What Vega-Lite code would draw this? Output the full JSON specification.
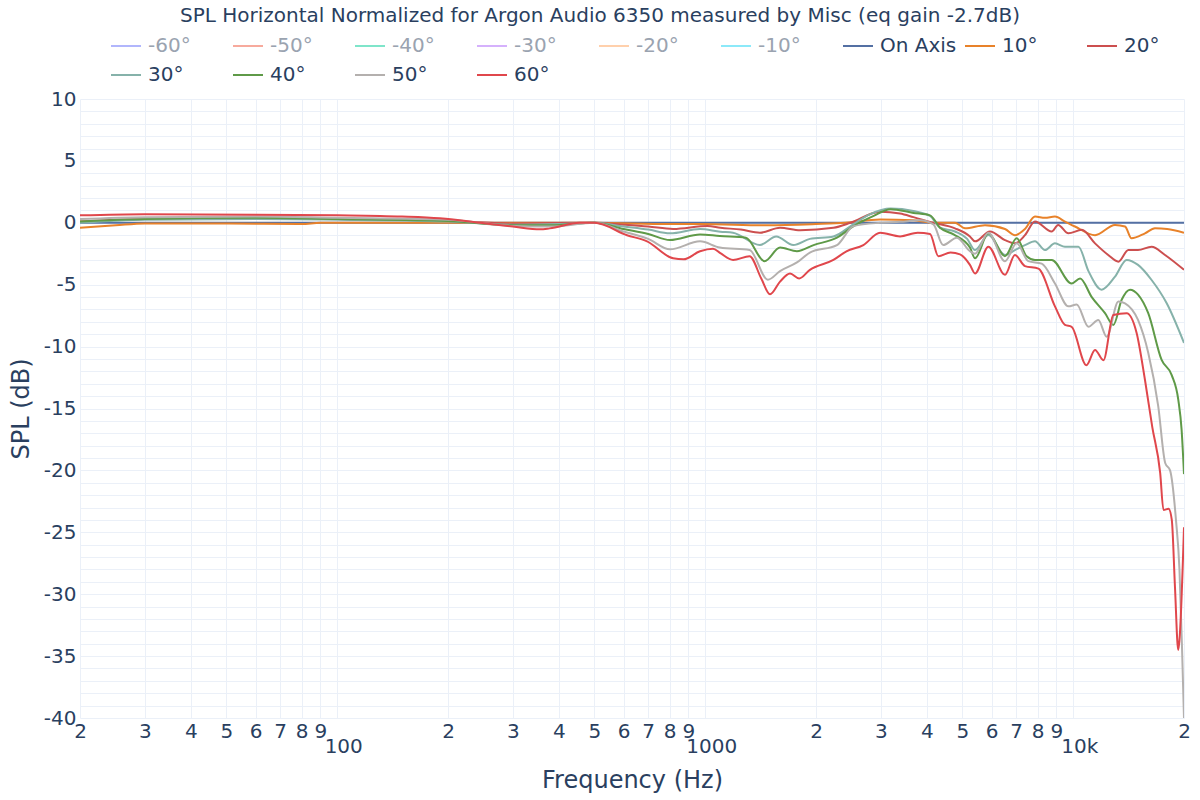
{
  "$schema": "https://vega.github.io/schema/vega-lite/v6.json",
  "width": 1104,
  "height": 619,
  "autosize": {"type": "none"},
  "padding": {"left": 80, "top": 99, "right": 16, "bottom": 82},
  "background": "white",
  "config": {
    "view": {"stroke": null},
    "font": "DejaVu Sans"
  },
  "title": {
    "text": "SPL Horizontal Normalized for Argon Audio 6350 measured by Misc (eq gain -2.7dB)",
    "font": "DejaVu Sans",
    "fontSize": 20,
    "fontWeight": "normal",
    "color": "#2a3f5f",
    "anchor": "middle",
    "dx": -32,
    "offset": 4
  },
  "data": {
    "values": [
      {"angle": "On Axis", "freq": 20, "spl": 0},
      {"angle": "On Axis", "freq": 100, "spl": 0},
      {"angle": "On Axis", "freq": 1000, "spl": 0},
      {"angle": "On Axis", "freq": 10000, "spl": 0},
      {"angle": "On Axis", "freq": 20000, "spl": 0},

      {"angle": "10°", "freq": 20, "spl": -0.4},
      {"angle": "10°", "freq": 25, "spl": -0.2},
      {"angle": "10°", "freq": 30, "spl": -0.05},
      {"angle": "10°", "freq": 50, "spl": -0.05},
      {"angle": "10°", "freq": 80, "spl": -0.1},
      {"angle": "10°", "freq": 90, "spl": 0},
      {"angle": "10°", "freq": 200, "spl": 0},
      {"angle": "10°", "freq": 500, "spl": 0},
      {"angle": "10°", "freq": 800, "spl": -0.1},
      {"angle": "10°", "freq": 968, "spl": -0.1},
      {"angle": "10°", "freq": 1470, "spl": -0.2},
      {"angle": "10°", "freq": 2000, "spl": -0.1},
      {"angle": "10°", "freq": 2400, "spl": 0},
      {"angle": "10°", "freq": 2986, "spl": 0.27},
      {"angle": "10°", "freq": 3680, "spl": 0.2},
      {"angle": "10°", "freq": 4170, "spl": 0},
      {"angle": "10°", "freq": 4772, "spl": 0},
      {"angle": "10°", "freq": 5082, "spl": -0.45},
      {"angle": "10°", "freq": 5758, "spl": -0.2},
      {"angle": "10°", "freq": 6524, "spl": -0.5},
      {"angle": "10°", "freq": 6946, "spl": -1.0},
      {"angle": "10°", "freq": 7394, "spl": -0.5},
      {"angle": "10°", "freq": 7872, "spl": 0.5},
      {"angle": "10°", "freq": 8380, "spl": 0.4},
      {"angle": "10°", "freq": 8920, "spl": 0.5},
      {"angle": "10°", "freq": 9498, "spl": 0.1},
      {"angle": "10°", "freq": 10110, "spl": -0.3},
      {"angle": "10°", "freq": 11462, "spl": -1.0},
      {"angle": "10°", "freq": 12988, "spl": -0.17},
      {"angle": "10°", "freq": 13828, "spl": -0.3},
      {"angle": "10°", "freq": 14400, "spl": -1.25},
      {"angle": "10°", "freq": 15668, "spl": -0.85},
      {"angle": "10°", "freq": 16680, "spl": -0.45},
      {"angle": "10°", "freq": 18000, "spl": -0.5},
      {"angle": "10°", "freq": 20000, "spl": -0.8},

      {"angle": "20°", "freq": 20, "spl": 0.1},
      {"angle": "20°", "freq": 30, "spl": 0.3},
      {"angle": "20°", "freq": 50, "spl": 0.35},
      {"angle": "20°", "freq": 100, "spl": 0.3},
      {"angle": "20°", "freq": 200, "spl": 0.15},
      {"angle": "20°", "freq": 300, "spl": -0.05},
      {"angle": "20°", "freq": 500, "spl": 0},
      {"angle": "20°", "freq": 600, "spl": -0.15},
      {"angle": "20°", "freq": 700, "spl": -0.3},
      {"angle": "20°", "freq": 818, "spl": -0.5},
      {"angle": "20°", "freq": 1015, "spl": -0.26},
      {"angle": "20°", "freq": 1099, "spl": -0.4},
      {"angle": "20°", "freq": 1250, "spl": -0.55},
      {"angle": "20°", "freq": 1408, "spl": -0.8},
      {"angle": "20°", "freq": 1597, "spl": -0.4},
      {"angle": "20°", "freq": 1810, "spl": -0.6},
      {"angle": "20°", "freq": 2230, "spl": -0.4},
      {"angle": "20°", "freq": 2480, "spl": 0},
      {"angle": "20°", "freq": 2986, "spl": 0.9},
      {"angle": "20°", "freq": 3384, "spl": 0.75},
      {"angle": "20°", "freq": 3680, "spl": 0.46},
      {"angle": "20°", "freq": 4170, "spl": 0},
      {"angle": "20°", "freq": 4772, "spl": -0.45},
      {"angle": "20°", "freq": 5240, "spl": -1.1},
      {"angle": "20°", "freq": 5410, "spl": -1.5},
      {"angle": "20°", "freq": 5940, "spl": -0.7},
      {"angle": "20°", "freq": 6524, "spl": -1.4},
      {"angle": "20°", "freq": 6946, "spl": -1.66},
      {"angle": "20°", "freq": 7394, "spl": -1.0},
      {"angle": "20°", "freq": 7872, "spl": 0.1},
      {"angle": "20°", "freq": 8740, "spl": -0.7},
      {"angle": "20°", "freq": 9100, "spl": -0.17},
      {"angle": "20°", "freq": 9700, "spl": -0.85},
      {"angle": "20°", "freq": 10550, "spl": -0.57},
      {"angle": "20°", "freq": 11462, "spl": -1.66},
      {"angle": "20°", "freq": 12450, "spl": -2.6},
      {"angle": "20°", "freq": 13270, "spl": -3.14},
      {"angle": "20°", "freq": 14120, "spl": -2.2},
      {"angle": "20°", "freq": 15000, "spl": -2.2},
      {"angle": "20°", "freq": 16330, "spl": -1.93},
      {"angle": "20°", "freq": 17760, "spl": -2.6},
      {"angle": "20°", "freq": 20000, "spl": -3.8},

      {"angle": "30°", "freq": 20, "spl": 0.0},
      {"angle": "30°", "freq": 30, "spl": 0.25},
      {"angle": "30°", "freq": 60, "spl": 0.3},
      {"angle": "30°", "freq": 100, "spl": 0.25},
      {"angle": "30°", "freq": 200, "spl": 0.1},
      {"angle": "30°", "freq": 300, "spl": -0.15},
      {"angle": "30°", "freq": 400, "spl": -0.1},
      {"angle": "30°", "freq": 500, "spl": 0},
      {"angle": "30°", "freq": 600, "spl": -0.3},
      {"angle": "30°", "freq": 700, "spl": -0.55},
      {"angle": "30°", "freq": 802, "spl": -0.85},
      {"angle": "30°", "freq": 968, "spl": -0.5},
      {"angle": "30°", "freq": 1099, "spl": -0.72},
      {"angle": "30°", "freq": 1190, "spl": -0.8},
      {"angle": "30°", "freq": 1408, "spl": -1.79},
      {"angle": "30°", "freq": 1560, "spl": -1.1},
      {"angle": "30°", "freq": 1735, "spl": -1.8},
      {"angle": "30°", "freq": 1925, "spl": -1.3},
      {"angle": "30°", "freq": 2230, "spl": -1.1},
      {"angle": "30°", "freq": 2530, "spl": -0.1},
      {"angle": "30°", "freq": 2800, "spl": 0.68},
      {"angle": "30°", "freq": 3190, "spl": 1.15},
      {"angle": "30°", "freq": 3680, "spl": 0.95},
      {"angle": "30°", "freq": 4083, "spl": 0.55},
      {"angle": "30°", "freq": 4346, "spl": -0.4},
      {"angle": "30°", "freq": 4772, "spl": -0.7},
      {"angle": "30°", "freq": 5150, "spl": -1.3},
      {"angle": "30°", "freq": 5410, "spl": -2.2},
      {"angle": "30°", "freq": 5880, "spl": -0.99},
      {"angle": "30°", "freq": 6524, "spl": -2.6},
      {"angle": "30°", "freq": 6946, "spl": -2.2},
      {"angle": "30°", "freq": 7394, "spl": -1.8},
      {"angle": "30°", "freq": 7872, "spl": -1.5},
      {"angle": "30°", "freq": 8380, "spl": -2.2},
      {"angle": "30°", "freq": 8920, "spl": -1.66},
      {"angle": "30°", "freq": 9498, "spl": -1.93},
      {"angle": "30°", "freq": 10330, "spl": -1.93},
      {"angle": "30°", "freq": 11000, "spl": -3.9},
      {"angle": "30°", "freq": 11950, "spl": -5.4},
      {"angle": "30°", "freq": 12988, "spl": -4.35},
      {"angle": "30°", "freq": 13970, "spl": -3.0},
      {"angle": "30°", "freq": 15000, "spl": -3.4},
      {"angle": "30°", "freq": 16330, "spl": -4.62},
      {"angle": "30°", "freq": 17950, "spl": -6.5},
      {"angle": "30°", "freq": 20000, "spl": -9.7},

      {"angle": "40°", "freq": 20, "spl": 0.1},
      {"angle": "40°", "freq": 30, "spl": 0.3},
      {"angle": "40°", "freq": 60, "spl": 0.4},
      {"angle": "40°", "freq": 100, "spl": 0.3},
      {"angle": "40°", "freq": 200, "spl": 0.15},
      {"angle": "40°", "freq": 300, "spl": -0.2},
      {"angle": "40°", "freq": 380, "spl": -0.2},
      {"angle": "40°", "freq": 500, "spl": 0},
      {"angle": "40°", "freq": 600, "spl": -0.5},
      {"angle": "40°", "freq": 700, "spl": -0.9},
      {"angle": "40°", "freq": 802, "spl": -1.39},
      {"angle": "40°", "freq": 968, "spl": -0.94},
      {"angle": "40°", "freq": 1096, "spl": -1.07},
      {"angle": "40°", "freq": 1290, "spl": -1.2},
      {"angle": "40°", "freq": 1450, "spl": -3.1},
      {"angle": "40°", "freq": 1597, "spl": -2.0},
      {"angle": "40°", "freq": 1775, "spl": -2.3},
      {"angle": "40°", "freq": 1970, "spl": -1.8},
      {"angle": "40°", "freq": 2280, "spl": -1.2},
      {"angle": "40°", "freq": 2530, "spl": -0.27},
      {"angle": "40°", "freq": 2860, "spl": 0.54},
      {"angle": "40°", "freq": 3190, "spl": 1.1},
      {"angle": "40°", "freq": 3680, "spl": 0.8},
      {"angle": "40°", "freq": 4083, "spl": 0.6},
      {"angle": "40°", "freq": 4346, "spl": -0.4},
      {"angle": "40°", "freq": 4730, "spl": -0.94},
      {"angle": "40°", "freq": 5240, "spl": -2.0},
      {"angle": "40°", "freq": 5410, "spl": -2.87},
      {"angle": "40°", "freq": 5880, "spl": -0.85},
      {"angle": "40°", "freq": 6524, "spl": -2.7},
      {"angle": "40°", "freq": 7020, "spl": -1.25},
      {"angle": "40°", "freq": 7470, "spl": -2.7},
      {"angle": "40°", "freq": 7872, "spl": -3.0},
      {"angle": "40°", "freq": 8740, "spl": -3.0},
      {"angle": "40°", "freq": 9900, "spl": -4.9},
      {"angle": "40°", "freq": 10440, "spl": -4.5},
      {"angle": "40°", "freq": 11230, "spl": -6.0},
      {"angle": "40°", "freq": 12200, "spl": -7.3},
      {"angle": "40°", "freq": 12850, "spl": -8.25},
      {"angle": "40°", "freq": 13550, "spl": -6.2},
      {"angle": "40°", "freq": 14270, "spl": -5.4},
      {"angle": "40°", "freq": 15000, "spl": -5.8},
      {"angle": "40°", "freq": 15990, "spl": -7.3},
      {"angle": "40°", "freq": 17400, "spl": -11.1},
      {"angle": "40°", "freq": 18520, "spl": -12.3},
      {"angle": "40°", "freq": 19300, "spl": -14.3},
      {"angle": "40°", "freq": 19700, "spl": -16.7},
      {"angle": "40°", "freq": 20000, "spl": -20.3},

      {"angle": "50°", "freq": 20, "spl": 0.3},
      {"angle": "50°", "freq": 30, "spl": 0.45},
      {"angle": "50°", "freq": 60, "spl": 0.5},
      {"angle": "50°", "freq": 100, "spl": 0.4},
      {"angle": "50°", "freq": 200, "spl": 0.25},
      {"angle": "50°", "freq": 300, "spl": -0.25},
      {"angle": "50°", "freq": 380, "spl": -0.3},
      {"angle": "50°", "freq": 500, "spl": 0},
      {"angle": "50°", "freq": 600, "spl": -0.7},
      {"angle": "50°", "freq": 700, "spl": -1.3},
      {"angle": "50°", "freq": 802, "spl": -2.14},
      {"angle": "50°", "freq": 968, "spl": -1.5},
      {"angle": "50°", "freq": 1096, "spl": -2.0},
      {"angle": "50°", "freq": 1320, "spl": -2.2},
      {"angle": "50°", "freq": 1480, "spl": -4.6},
      {"angle": "50°", "freq": 1597, "spl": -3.9},
      {"angle": "50°", "freq": 1775, "spl": -3.2},
      {"angle": "50°", "freq": 1925, "spl": -2.4},
      {"angle": "50°", "freq": 2280, "spl": -1.8},
      {"angle": "50°", "freq": 2530, "spl": -0.27},
      {"angle": "50°", "freq": 2986, "spl": 0},
      {"angle": "50°", "freq": 3384, "spl": 0.08},
      {"angle": "50°", "freq": 3835, "spl": 0.2},
      {"angle": "50°", "freq": 4170, "spl": -0.13},
      {"angle": "50°", "freq": 4430, "spl": -1.8},
      {"angle": "50°", "freq": 4830, "spl": -1.2},
      {"angle": "50°", "freq": 5240, "spl": -2.3},
      {"angle": "50°", "freq": 5410, "spl": -2.5},
      {"angle": "50°", "freq": 5880, "spl": -0.8},
      {"angle": "50°", "freq": 6524, "spl": -3.1},
      {"angle": "50°", "freq": 7020, "spl": -1.66},
      {"angle": "50°", "freq": 7550, "spl": -3.1},
      {"angle": "50°", "freq": 8210, "spl": -3.3},
      {"angle": "50°", "freq": 8920, "spl": -4.9},
      {"angle": "50°", "freq": 9700, "spl": -6.75},
      {"angle": "50°", "freq": 10220, "spl": -6.6},
      {"angle": "50°", "freq": 11000, "spl": -8.4},
      {"angle": "50°", "freq": 11700, "spl": -7.85},
      {"angle": "50°", "freq": 12330, "spl": -9.2},
      {"angle": "50°", "freq": 13270, "spl": -6.35},
      {"angle": "50°", "freq": 13828, "spl": -6.5},
      {"angle": "50°", "freq": 15000, "spl": -7.85},
      {"angle": "50°", "freq": 15990, "spl": -10.5},
      {"angle": "50°", "freq": 17020, "spl": -14.8},
      {"angle": "50°", "freq": 17780, "spl": -19.4},
      {"angle": "50°", "freq": 18330, "spl": -20.0},
      {"angle": "50°", "freq": 19020, "spl": -24.0},
      {"angle": "50°", "freq": 19440, "spl": -28.0},
      {"angle": "50°", "freq": 19770, "spl": -34.7},
      {"angle": "50°", "freq": 20000, "spl": -40.0},

      {"angle": "60°", "freq": 20, "spl": 0.6},
      {"angle": "60°", "freq": 30, "spl": 0.7},
      {"angle": "60°", "freq": 60, "spl": 0.65},
      {"angle": "60°", "freq": 100, "spl": 0.6},
      {"angle": "60°", "freq": 150, "spl": 0.5},
      {"angle": "60°", "freq": 190, "spl": 0.36},
      {"angle": "60°", "freq": 260, "spl": -0.1},
      {"angle": "60°", "freq": 300, "spl": -0.3},
      {"angle": "60°", "freq": 356, "spl": -0.53},
      {"angle": "60°", "freq": 378, "spl": -0.45},
      {"angle": "60°", "freq": 456, "spl": 0},
      {"angle": "60°", "freq": 500, "spl": 0},
      {"angle": "60°", "freq": 613, "spl": -1.0},
      {"angle": "60°", "freq": 695, "spl": -1.5},
      {"angle": "60°", "freq": 818, "spl": -2.87},
      {"angle": "60°", "freq": 873, "spl": -2.95},
      {"angle": "60°", "freq": 968, "spl": -2.3},
      {"angle": "60°", "freq": 1050, "spl": -2.1},
      {"angle": "60°", "freq": 1099, "spl": -2.45},
      {"angle": "60°", "freq": 1190, "spl": -3.0},
      {"angle": "60°", "freq": 1320, "spl": -2.7},
      {"angle": "60°", "freq": 1420, "spl": -4.5},
      {"angle": "60°", "freq": 1500, "spl": -5.78},
      {"angle": "60°", "freq": 1597, "spl": -4.75},
      {"angle": "60°", "freq": 1700, "spl": -4.1},
      {"angle": "60°", "freq": 1800, "spl": -4.5},
      {"angle": "60°", "freq": 1925, "spl": -3.8},
      {"angle": "60°", "freq": 2230, "spl": -3.0},
      {"angle": "60°", "freq": 2420, "spl": -2.3},
      {"angle": "60°", "freq": 2690, "spl": -1.8},
      {"angle": "60°", "freq": 2986, "spl": -0.8},
      {"angle": "60°", "freq": 3384, "spl": -1.1},
      {"angle": "60°", "freq": 3780, "spl": -0.8},
      {"angle": "60°", "freq": 4083, "spl": -0.9},
      {"angle": "60°", "freq": 4300, "spl": -2.7},
      {"angle": "60°", "freq": 4640, "spl": -2.4},
      {"angle": "60°", "freq": 4926, "spl": -2.55},
      {"angle": "60°", "freq": 5240, "spl": -3.4},
      {"angle": "60°", "freq": 5410, "spl": -4.1},
      {"angle": "60°", "freq": 5880, "spl": -1.93},
      {"angle": "60°", "freq": 6524, "spl": -4.2},
      {"angle": "60°", "freq": 6946, "spl": -2.6},
      {"angle": "60°", "freq": 7394, "spl": -3.5},
      {"angle": "60°", "freq": 8040, "spl": -3.7},
      {"angle": "60°", "freq": 8920, "spl": -6.75},
      {"angle": "60°", "freq": 9498, "spl": -8.25},
      {"angle": "60°", "freq": 9900, "spl": -8.4},
      {"angle": "60°", "freq": 10860, "spl": -11.5},
      {"angle": "60°", "freq": 11462, "spl": -10.27},
      {"angle": "60°", "freq": 12080, "spl": -11.1},
      {"angle": "60°", "freq": 12850, "spl": -7.45},
      {"angle": "60°", "freq": 13970, "spl": -7.3},
      {"angle": "60°", "freq": 14870, "spl": -8.9},
      {"angle": "60°", "freq": 15668, "spl": -12.7},
      {"angle": "60°", "freq": 16400, "spl": -16.5},
      {"angle": "60°", "freq": 17230, "spl": -20.2},
      {"angle": "60°", "freq": 17590, "spl": -23.2},
      {"angle": "60°", "freq": 18160, "spl": -23.1},
      {"angle": "60°", "freq": 18530, "spl": -24.0},
      {"angle": "60°", "freq": 18900, "spl": -29.4},
      {"angle": "60°", "freq": 19290, "spl": -34.5},
      {"angle": "60°", "freq": 19440, "spl": -33.7},
      {"angle": "60°", "freq": 20000, "spl": -24.6}
    ]
  },
  "mark": {"type": "line", "strokeWidth": 2, "interpolate": "monotone", "clip": true},
  "encoding": {
    "x": {
      "field": "freq",
      "type": "quantitative",
      "scale": {"type": "log", "domain": [20, 20000], "nice": false},
      "axis": {
        "title": "Frequency (Hz)",
        "titleFont": "DejaVu Sans",
        "titleFontSize": 24,
        "titleFontWeight": "normal",
        "titleColor": "#2a3f5f",
        "titlePadding": 12,
        "values": [20, 30, 40, 50, 60, 70, 80, 90, 100, 200, 300, 400, 500, 600, 700, 800, 900, 1000, 2000, 3000, 4000, 5000, 6000, 7000, 8000, 9000, 10000, 20000],
        "labelExpr": "datum.value == 100 ? '100' : datum.value == 1000 ? '1000' : datum.value == 10000 ? '10k' : substring(toString(datum.value), 0, 1)",
        "labelFont": "DejaVu Sans",
        "labelFontSize": 20,
        "labelColor": "#2a3f5f",
        "labelOverlap": false,
        "labelFlush": false,
        "labelPadding": {"condition": {"test": "datum.value == 100 || datum.value == 1000 || datum.value == 10000", "value": 18}, "value": 3},
        "labelOffset": {"condition": {"test": "datum.value == 100 || datum.value == 1000 || datum.value == 10000", "value": 6}, "value": 0},
        "ticks": false,
        "domain": false,
        "grid": true,
        "gridColor": "#ebf0f8",
        "gridWidth": 1
      }
    },
    "y": {
      "field": "spl",
      "type": "quantitative",
      "scale": {"domain": [-40, 10], "nice": false, "zero": false},
      "axis": {
        "title": "SPL (dB)",
        "titleFont": "DejaVu Sans",
        "titleFontSize": 24,
        "titleFontWeight": "normal",
        "titleColor": "#2a3f5f",
        "titlePadding": 10,
        "values": [-40, -39, -38, -37, -36, -35, -34, -33, -32, -31, -30, -29, -28, -27, -26, -25, -24, -23, -22, -21, -20, -19, -18, -17, -16, -15, -14, -13, -12, -11, -10, -9, -8, -7, -6, -5, -4, -3, -2, -1, 0, 1, 2, 3, 4, 5, 6, 7, 8, 9, 10],
        "labelExpr": "datum.value % 5 == 0 ? toString(datum.value) : ''",
        "labelFont": "DejaVu Sans",
        "labelFontSize": 20,
        "labelColor": "#2a3f5f",
        "labelOverlap": false,
        "labelFlush": false,
        "labelPadding": 4,
        "ticks": false,
        "domain": false,
        "grid": true,
        "gridColor": "#ebf0f8",
        "gridWidth": 1
      }
    },
    "color": {
      "field": "angle",
      "type": "nominal",
      "scale": {
        "domain": ["-60°", "-50°", "-40°", "-30°", "-20°", "-10°", "On Axis", "10°", "20°", "30°", "40°", "50°", "60°"],
        "range": ["#b1b6fc", "#f7aa9d", "#7fe5ca", "#d5b1fc", "#ffd0ac", "#8ce9f9", "#5470a3", "#e8822a", "#cc4f4f", "#86b2aa", "#5f9a48", "#b4b0ae", "#e0474c"]
      },
      "legend": {
        "title": null,
        "orient": "none",
        "legendX": 30,
        "legendY": -69,
        "direction": "horizontal",
        "columns": 9,
        "gridAlign": "all",
        "columnPadding": 4,
        "rowPadding": 3,
        "padding": 0,
        "symbolType": "stroke",
        "symbolSize": 900,
        "symbolStrokeWidth": 2,
        "labelOffset": 6,
        "labelFont": "DejaVu Sans",
        "labelFontSize": 20,
        "labelColor": "#2a3f5f",
        "labelLimit": 200,
        "encode": {
          "labels": {
            "update": {
              "fill": {"signal": "indexof(datum.label, '-') === 0 ? '#9aa3b0' : '#2a3f5f'"}
            }
          }
        }
      }
    }
  }
}
